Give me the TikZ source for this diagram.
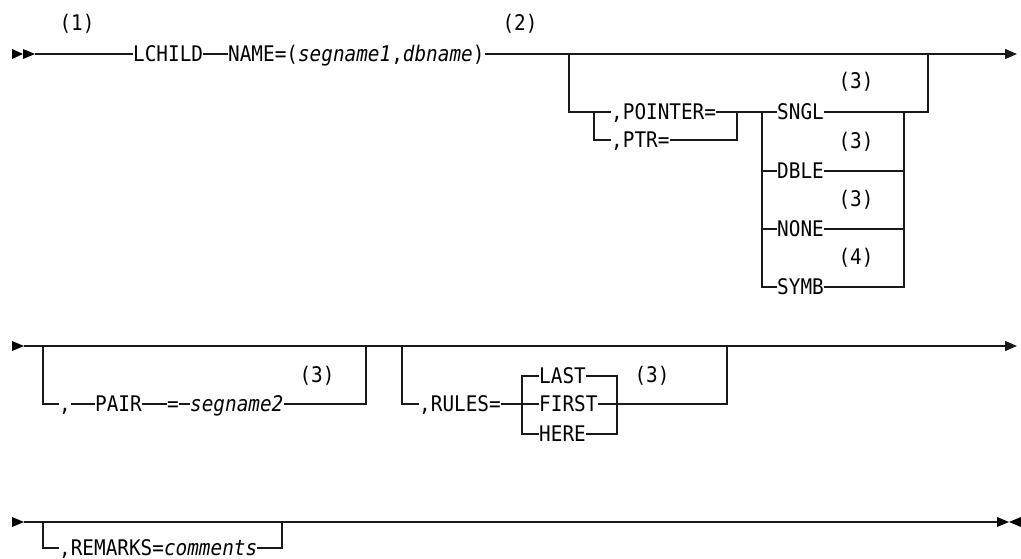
\documentclass[tikz,border=0pt]{standalone}
\usepackage{fontspec}
\newfontfamily\kwfont{DejaVu Sans Mono}[FakeStretch=0.9]
\usetikzlibrary{arrows.meta}
\begin{document}
\begin{tikzpicture}[x=1pt,y=-1pt,
  ln/.style={line width=1.3pt, draw=black!90},
  tip/.style={-{Triangle[length=12pt,width=10pt]}},
  kw/.style={font={\kwfont\fontsize{21.5}{24}\selectfont}, inner sep=0pt, text height=15.6pt, text depth=0pt, anchor=west},
  note/.style={font={\kwfont\fontsize{21.5}{24}\selectfont}, inner sep=0pt},
  head/.style={fill=black, draw=none}]
\useasboundingbox (0,0) rectangle (1021,559);

% ---------------- row 1 ----------------
\fill[head] (12,49) -- (23,54) -- (12,59) -- cycle;
\fill[head] (23,49) -- (35,54) -- (23,59) -- cycle;
\coordinate (r1s) at (35,54);
\coordinate (r1e) at (1017,54);
\node[kw] (lchild) at (133,54) {LCHILD};
\node[kw] (name) at (228,54) {NAME=(\textit{segname1},\textit{dbname})};
\draw[ln] (r1s) -- (lchild.west);
\draw[ln] (lchild.east) -- (name.west);
\draw[ln,tip] (name.east) -- (r1e);
\node[note] (f1) at (77,24) {(1)};
\node[note] (f2) at (520,24) {(2)};

\coordinate (g1a) at (569,54);
\coordinate (g1b) at (928,54);
\coordinate (c1) at (594,112);
\coordinate (c2) at (737,112);
\coordinate (c3) at (762,112);
\coordinate (c4) at (904,112);
\node[kw] (pointer) at (611,112) {,POINTER=};
\node[kw] (ptr) at (611,140) {,PTR=};
\draw[ln] (g1a) |- (pointer.west);
\draw[ln] (c1) |- (ptr.west);
\draw[ln] (ptr.east) -| (c2);
\draw[ln] (pointer.east) -- (c3);

\node[kw] (sngl) at (777,112) {SNGL};
\node[kw] (dble) at (777,171) {DBLE};
\node[kw] (none) at (777,229) {NONE};
\node[kw] (symb) at (777,287) {SYMB};
\draw[ln] (c3) -- (sngl.west);
\draw[ln] (c3) |- (symb.west);
\draw[ln] (c3 |- dble) -- (dble.west);
\draw[ln] (c3 |- none) -- (none.west);
\draw[ln] (sngl.east) -| (g1b);
\draw[ln] (symb.east) -| (c4);
\draw[ln] (dble.east) -- (c4 |- dble);
\draw[ln] (none.east) -- (c4 |- none);
\node[note] (f3a) at (856,82) {(3)};
\node[note] (f3b) at (856,142) {(3)};
\node[note] (f3c) at (856,200) {(3)};
\node[note] (f4) at (856,258) {(4)};

% ---------------- row 2 ----------------
\fill[head] (12,341) -- (24,346) -- (12,351) -- cycle;
\coordinate (r2s) at (24,346);
\coordinate (r2e) at (1017,346);
\draw[ln,tip] (r2s) -- (r2e);

\coordinate (g2a) at (43,346);
\coordinate (g2b) at (366,346);
\node[kw] (comma) at (59,404) {,};
\node[kw] (pair) at (95,404) {PAIR};
\node[kw] (eq) at (167,404) {=};
\node[kw] (seg2) at (190,404) {\textit{segname2}};
\draw[ln] (g2a) |- (comma.west);
\draw[ln] (comma.east) -- (pair.west);
\draw[ln] (pair.east) -- (eq.west);
\draw[ln] (eq.east) -- (seg2.west);
\draw[ln] (seg2.east) -| (g2b);
\node[note] (f3d) at (317,376) {(3)};

\coordinate (g3a) at (402,346);
\coordinate (g3b) at (727,346);
\coordinate (c5) at (522,404);
\coordinate (c6) at (617,404);
\node[kw] (rules) at (419,404) {,RULES=};
\node[kw] (last) at (539,376) {LAST};
\node[kw] (first) at (539,404) {FIRST};
\node[kw] (here) at (539,434) {HERE};
\draw[ln] (g3a) |- (rules.west);
\draw[ln] (rules.east) -- (first.west);
\draw[ln] (last.west) -- (c5 |- last) -- (c5 |- here) -- (here.west);
\draw[ln] (last.east) -- (c6 |- last) -- (c6 |- here) -- (here.east);
\draw[ln] (first.east) -| (g3b);
\node[note] (f3e) at (652,376) {(3)};

% ---------------- row 3 ----------------
\fill[head] (12,517) -- (24,522) -- (12,527) -- cycle;
\coordinate (r3s) at (24,522);
\coordinate (r3e) at (997,522);
\draw[ln] (r3s) -- (r3e);
\fill[head] (997,517) -- (1009,522) -- (997,527) -- cycle;
\fill[head] (1021,517) -- (1009,522) -- (1021,527) -- cycle;

\coordinate (g4a) at (43,522);
\coordinate (g4b) at (282,522);
\node[kw] (remarks) at (59,548) {,REMARKS=\textit{comments}};
\draw[ln] (g4a) |- (remarks.west);
\draw[ln] (remarks.east) -| (g4b);
\end{tikzpicture}
\end{document}
